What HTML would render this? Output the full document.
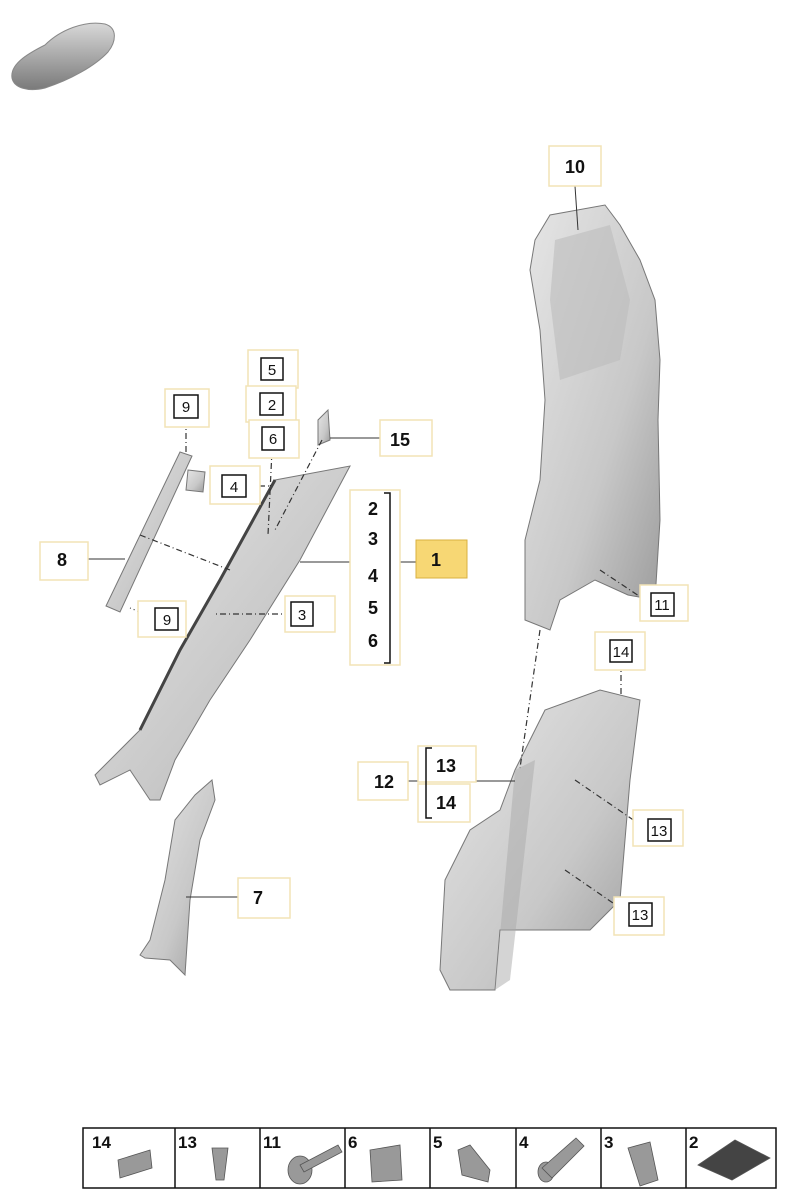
<!DOCTYPE html>
<html><head><meta charset="utf-8"><style>
html,body{margin:0;padding:0;background:#fff;}
svg{display:block;font-family:"Liberation Sans",sans-serif;}
.lb{fill:#fff;stroke:#f2e3b6;stroke-width:1.5}
.bx{fill:#fff;stroke:#111;stroke-width:1.5}
.t{font-size:18px;font-weight:bold;fill:#111;text-anchor:middle}
.s{font-size:15px;fill:#111;text-anchor:middle}
.ln{stroke:#333;stroke-width:1;fill:none}
.dl{stroke:#333;stroke-width:1.2;fill:none;stroke-dasharray:6 3 1 3}
.part{fill:url(#g);stroke:#777;stroke-width:1}
</style></head><body>
<svg width="788" height="1200" viewBox="0 0 788 1200">
<defs>
<linearGradient id="g" x1="0" y1="0" x2="1" y2="1"><stop offset="0" stop-color="#e6e6e6"/><stop offset="0.6" stop-color="#c8c8c8"/><stop offset="1" stop-color="#9a9a9a"/></linearGradient>
<linearGradient id="car" x1="0" y1="0" x2="0" y2="1"><stop offset="0" stop-color="#d8d8d8"/><stop offset="1" stop-color="#7a7a7a"/></linearGradient>
</defs>
<!-- car icon -->
<path d="M12,78 C10,65 25,55 45,45 C60,30 85,20 105,24 C118,28 116,42 108,52 C95,66 70,80 45,88 C28,92 14,88 12,78Z" fill="url(#car)" stroke="#888"/>
<!-- B pillar upper (10) -->
<path class="part" d="M535,240 L550,215 L605,205 L620,225 L640,260 L655,300 L660,360 L658,420 L660,520 L655,600 L628,595 L595,580 L560,600 L550,630 L525,620 L525,540 L540,480 L545,400 L540,330 L530,270Z"/>
<path d="M555,240 L610,225 L630,300 L620,360 L560,380 L550,300Z" fill="#bdbdbd" opacity="0.6"/>
<!-- lower part 12 -->
<path class="part" d="M440,970 L445,880 L470,830 L500,810 L515,770 L535,730 L545,710 L600,690 L640,700 L630,780 L620,900 L590,930 L500,930 L495,990 L450,990Z"/>
<path d="M515,770 L535,760 L510,980 L495,990 Z" fill="#aaa" opacity="0.5"/>
<!-- A pillar 1 -->
<path class="part" d="M275,480 L350,466 L300,560 L250,640 L210,700 L175,760 L160,800 L150,800 L130,770 L100,785 L95,775 L140,730 L180,650 L220,580Z"/>
<path d="M275,480 L220,580 L180,650 L140,730" stroke="#444" stroke-width="3" fill="none"/>
<!-- part 7 -->
<path class="part" d="M140,955 L150,940 L165,880 L175,820 L195,795 L212,780 L215,800 L200,840 L190,900 L185,975 L170,960 L145,958Z"/>
<!-- part 8 -->
<path class="part" d="M180,452 L192,456 L120,612 L106,606Z"/>
<path class="part" d="M188,470 L205,472 L203,492 L186,490Z"/>
<!-- part 15 small bracket -->
<path class="part" d="M318,420 L328,410 L330,440 L318,445Z"/>
<!-- dashed leader lines -->
<path class="dl" d="M186,420 L186,455"/>
<path class="dl" d="M272,383 L272,395 M272,416 L272,428 M272,450 L268,535"/>
<path class="dl" d="M246,486 L270,486"/>
<path class="dl" d="M322,440 L275,530"/>
<path class="dl" d="M140,535 L230,570"/>
<path class="dl" d="M291,614 L215,614"/>
<path class="dl" d="M155,618 L130,608"/>
<path class="dl" d="M600,570 L651,604"/>
<path class="dl" d="M540,630 L520,768"/>
<path class="dl" d="M621,662 L621,695"/>
<path class="dl" d="M575,780 L648,830"/>
<path class="dl" d="M565,870 L629,914"/>
<!-- solid leaders -->
<path class="ln" d="M575,186 L578,230"/>
<path class="ln" d="M330,438 L380,438"/>
<path class="ln" d="M88,559 L125,559"/>
<path class="ln" d="M300,562 L416,562"/>
<path class="ln" d="M238,897 L186,897"/>
<path class="ln" d="M408,781 L515,781"/>
<!-- labels -->
<rect class="lb" x="549" y="146" width="52" height="40"/><text class="t" x="575" y="173">10</text>
<rect class="lb" x="248" y="350" width="50" height="38"/><rect class="bx" x="261" y="358" width="22" height="22"/><text class="s" x="272" y="375">5</text>
<rect class="lb" x="246" y="386" width="50" height="36"/><rect class="bx" x="260" y="393" width="23" height="22"/><text class="s" x="272" y="410">2</text>
<rect class="lb" x="249" y="420" width="50" height="38"/><rect class="bx" x="262" y="427" width="22" height="23"/><text class="s" x="273" y="444">6</text>
<rect class="lb" x="165" y="389" width="44" height="38"/><rect class="bx" x="174" y="395" width="24" height="23"/><text class="s" x="186" y="412">9</text>
<rect class="lb" x="210" y="466" width="50" height="38"/><rect class="bx" x="222" y="475" width="24" height="22"/><text class="s" x="234" y="492">4</text>
<rect class="lb" x="380" y="420" width="52" height="36"/><text class="t" x="400" y="446">15</text>
<rect class="lb" x="350" y="490" width="50" height="175"/>
<text class="t" x="373" y="515">2</text><text class="t" x="373" y="545">3</text><text class="t" x="373" y="582">4</text><text class="t" x="373" y="614">5</text><text class="t" x="373" y="647">6</text>
<path d="M384,493 L390,493 L390,663 L384,663" stroke="#111" stroke-width="1.5" fill="none"/>
<rect x="416" y="540" width="51" height="38" fill="#f7d774" stroke="#d9b040"/><text class="t" x="436" y="566">1</text>
<rect class="lb" x="40" y="542" width="48" height="38"/><text class="t" x="62" y="566">8</text>
<rect class="lb" x="138" y="601" width="48" height="36"/><rect class="bx" x="155" y="608" width="23" height="22"/><text class="s" x="167" y="625">9</text>
<rect class="lb" x="285" y="596" width="50" height="36"/><rect class="bx" x="291" y="602" width="22" height="24"/><text class="s" x="302" y="620">3</text>
<rect class="lb" x="640" y="585" width="48" height="36"/><rect class="bx" x="651" y="593" width="23" height="23"/><text class="s" x="662" y="610">11</text>
<rect class="lb" x="595" y="632" width="50" height="38"/><rect class="bx" x="610" y="640" width="22" height="22"/><text class="s" x="621" y="657">14</text>
<rect class="lb" x="358" y="762" width="50" height="38"/><text class="t" x="384" y="788">12</text>
<rect class="lb" x="418" y="746" width="58" height="36"/><text class="t" x="446" y="772">13</text>
<rect class="lb" x="418" y="784" width="52" height="38"/><text class="t" x="446" y="809">14</text>
<path d="M432,748 L426,748 L426,818 L432,818" stroke="#111" stroke-width="1.5" fill="none"/>
<rect class="lb" x="633" y="810" width="50" height="36"/><rect class="bx" x="648" y="819" width="23" height="22"/><text class="s" x="659" y="836">13</text>
<rect class="lb" x="614" y="897" width="50" height="38"/><rect class="bx" x="629" y="903" width="23" height="23"/><text class="s" x="640" y="920">13</text>
<rect class="lb" x="238" y="878" width="52" height="40"/><text class="t" x="258" y="904">7</text>
<!-- bottom strip -->
<rect x="83" y="1128" width="693" height="60" fill="#fff" stroke="#111" stroke-width="1.5"/>
<g stroke="#111" stroke-width="1.5">
<line x1="175" y1="1128" x2="175" y2="1188"/><line x1="260" y1="1128" x2="260" y2="1188"/><line x1="345" y1="1128" x2="345" y2="1188"/><line x1="430" y1="1128" x2="430" y2="1188"/><line x1="516" y1="1128" x2="516" y2="1188"/><line x1="601" y1="1128" x2="601" y2="1188"/><line x1="686" y1="1128" x2="686" y2="1188"/>
</g>
<g font-size="17" font-weight="bold" fill="#111">
<text x="92" y="1148">14</text><text x="178" y="1148">13</text><text x="263" y="1148">11</text><text x="348" y="1148">6</text><text x="433" y="1148">5</text><text x="519" y="1148">4</text><text x="604" y="1148">3</text><text x="689" y="1148">2</text>
</g>
<g fill="#999" stroke="#555" stroke-width="0.8">
<path d="M118,1160 L150,1150 L152,1168 L120,1178Z"/>
<path d="M212,1148 L228,1148 L224,1180 L216,1180Z"/>
<ellipse cx="300" cy="1170" rx="12" ry="14"/><path d="M300,1165 L338,1145 L342,1152 L304,1172Z"/>
<path d="M370,1150 L400,1145 L402,1180 L372,1182Z"/>
<path d="M458,1150 L470,1145 L490,1170 L488,1182 L462,1175Z"/>
<ellipse cx="546" cy="1172" rx="8" ry="10"/><path d="M542,1168 L576,1138 L584,1146 L552,1178Z"/>
<path d="M628,1148 L650,1142 L658,1180 L640,1186Z"/>
<path d="M698,1165 L735,1140 L770,1158 L732,1180Z" fill="#444"/>
</g>
</svg>
</body></html>
